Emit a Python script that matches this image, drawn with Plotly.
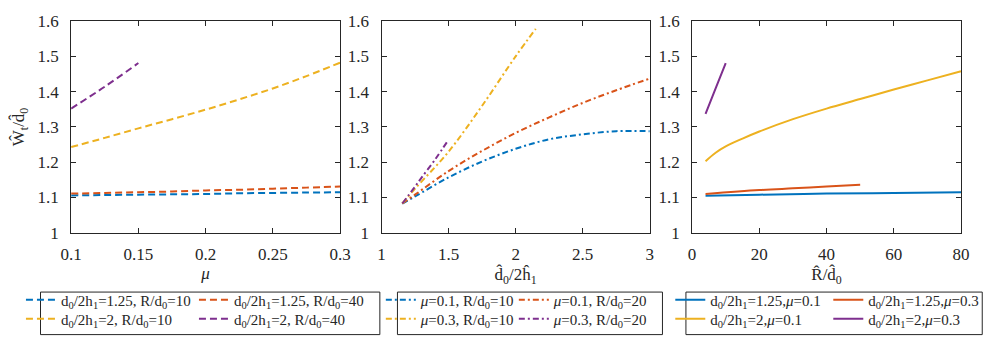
import plotly.graph_objects as go

# MATLAB 默认配色
BLUE, ORANGE, YELLOW, PURPLE = "#0072BD", "#D95319", "#EDB120", "#7E2F8E"
FONT = "Liberation Serif"
INK = "#262626"

# (a) Ŵt/d̂0 随 μ 变化
mu = [0.10, 0.125, 0.15, 0.175, 0.20, 0.225, 0.25, 0.275, 0.30]
mu_short = [0.10, 0.125, 0.15]
w_a_125_10 = [1.106, 1.107, 1.108, 1.109, 1.110, 1.112, 1.113, 1.114, 1.115]
w_a_125_40 = [1.111, 1.113, 1.115, 1.117, 1.120, 1.122, 1.125, 1.128, 1.131]
w_a_2_10 = [1.243, 1.269, 1.296, 1.322, 1.349, 1.378, 1.409, 1.444, 1.482]
w_a_2_40 = [1.352, 1.414, 1.481]

# (b) Ŵt/d̂0 随 d̂0/2ĥ1 变化
ratio = [1.155, 1.25, 1.5, 1.75, 2.0, 2.25, 2.5, 2.75, 3.0]
ratio_y = [1.155, 1.25, 1.5, 1.75, 2.0, 2.15]
ratio_p = [1.155, 1.25, 1.3, 1.4, 1.5]
w_b_01_10 = [1.083, 1.103, 1.157, 1.202, 1.238, 1.265, 1.279, 1.288, 1.288]
w_b_01_20 = [1.083, 1.108, 1.175, 1.232, 1.283, 1.327, 1.368, 1.404, 1.437]
w_b_03_10 = [1.083, 1.125, 1.230, 1.360, 1.500, 1.578]
w_b_03_20 = [1.083, 1.131, 1.157, 1.208, 1.264]

# (c) Ŵt/d̂0 随 R̂/d̂0 变化
r_blue = [4, 20, 40, 60, 80]
r_orange = [4, 20, 30, 40, 50]
r_yellow = [4, 7, 10, 15, 20, 30, 40, 50, 60, 70, 80]
r_purple = [4, 7, 10]
w_c_125_01 = [1.105, 1.108, 1.111, 1.113, 1.115]
w_c_125_03 = [1.110, 1.121, 1.126, 1.131, 1.136]
w_c_2_01 = [1.203, 1.227, 1.245, 1.267, 1.287, 1.322, 1.352, 1.379, 1.406, 1.432, 1.458]
w_c_2_03 = [1.337, 1.409, 1.481]

y_ticks = [1, 1.1, 1.2, 1.3, 1.4, 1.5, 1.6]
y_ticktext = ["1", "1.1", "1.2", "1.3", "1.4", "1.5", "1.6"]

D = "d<sub>0</sub>/2h<sub>1</sub>"
RD = "R/d<sub>0</sub>"
MU = "<i>μ</i>"

DASH = "7px,4px"
DASHDOT = "6px,3px,2px,3px"

# 每个子图两行图例：上行 / 下行
panels = [
    (1, ("legend", "legend2"), DASH, [
        (mu, w_a_125_10, BLUE, f"{D}=1.25, {RD}=10", 0),
        (mu, w_a_125_40, ORANGE, f"{D}=1.25, {RD}=40", 0),
        (mu, w_a_2_10, YELLOW, f"{D}=2, {RD}=10", 1),
        (mu_short, w_a_2_40, PURPLE, f"{D}=2, {RD}=40", 1),
    ]),
    (2, ("legend3", "legend4"), DASHDOT, [
        (ratio, w_b_01_10, BLUE, f"{MU}=0.1, {RD}=10", 0),
        (ratio, w_b_01_20, ORANGE, f"{MU}=0.1, {RD}=20", 0),
        (ratio_y, w_b_03_10, YELLOW, f"{MU}=0.3, {RD}=10", 1),
        (ratio_p, w_b_03_20, PURPLE, f"{MU}=0.3, {RD}=20", 1),
    ]),
    (3, ("legend5", "legend6"), "solid", [
        (r_blue, w_c_125_01, BLUE, f"{D}=1.25,{MU}=0.1", 0),
        (r_orange, w_c_125_03, ORANGE, f"{D}=1.25,{MU}=0.3", 0),
        (r_yellow, w_c_2_01, YELLOW, f"{D}=2,{MU}=0.1", 1),
        (r_purple, w_c_2_03, PURPLE, f"{D}=2,{MU}=0.3", 1),
    ]),
]

fig = go.Figure()
for idx, legs, dash, series in panels:
    sfx = "" if idx == 1 else str(idx)
    for xs, ys, col, name, r in series:
        fig.add_trace(go.Scatter(
            x=xs, y=ys, mode="lines", name=name, legend=legs[r],
            line={"color": col, "width": 2, "dash": dash, "shape": "spline"},
            xaxis="x" + sfx, yaxis="y" + sfx))

W, H = 996, 347
ydom = [1 - 228.3 / H, 1 - 4.3 / H]
xdoms = [(53.3, 328.3), (370.7, 645.0), (688.3, 963.3)]
xranges = [(0.1, 0.3), (1, 3), (0, 80)]
xticks = [[0.1, 0.15, 0.2, 0.25, 0.3], [1, 1.5, 2, 2.5, 3], [0, 20, 40, 60, 80]]
xtitles = [MU, "d̂<sub>0</sub>/2ĥ<sub>1</sub>", "R̂/d̂<sub>0</sub>"]

TXT = {"family": FONT, "size": 17, "color": INK}
axis_style = dict(showline=True, linecolor=INK, linewidth=1, mirror="ticks",
                  ticks="inside", ticklen=5, tickcolor=INK, showgrid=False,
                  zeroline=False, tickfont=TXT, ticklabeloverflow="allow")

layout = {}
for i, ((x0, x1), rng, tv, tt) in enumerate(zip(xdoms, xranges, xticks, xtitles)):
    sfx = "" if i == 0 else str(i + 1)
    layout["xaxis" + sfx] = dict(axis_style, domain=[x0 / W, x1 / W], range=list(rng),
                                 tickvals=tv, anchor="y" + sfx, ticklabelstandoff=6,
                                 title={"text": tt, "standoff": 0, "font": TXT})
    layout["yaxis" + sfx] = dict(axis_style, domain=ydom, range=[1, 1.6],
                                 tickvals=y_ticks, ticktext=y_ticktext,
                                 anchor="x" + sfx, ticklabelstandoff=8)
layout["yaxis"]["title"] = {"text": "Ŵ<sub>t</sub>/d̂<sub>0</sub>", "standoff": 16,
                            "font": TXT}

# 图例：每行一个横向图例，列间距用 entrywidth 控制（像素）
SAMPLE_PAD = 20
leg_rows = [(("legend", "legend2"), 22, 128),
            (("legend3", "legend4"), 390, 88),
            (("legend5", "legend6"), 686, 113)]
ROW_TOPS = (282, 302)
leg_boxes = [(22, 369), (387, 658), (682, 985)]
LEG_TOP, LEG_BOTTOM = 291, 336

for keys, sample_x, ew in leg_rows:
    for key, top in zip(keys, ROW_TOPS):
        layout[key] = dict(orientation="h", xanchor="left", yanchor="top",
                           x=(sample_x - SAMPLE_PAD) / W, y=1 - top / H,
                           borderwidth=0, bgcolor="rgba(0,0,0,0)",
                           entrywidth=ew, entrywidthmode="pixels",
                           font={"size": 15, "color": INK, "family": FONT})

fig.update_layout(**layout, width=W, height=H, showlegend=True,
                  margin={"l": 0, "r": 0, "t": 0, "b": 0},
                  paper_bgcolor="white", plot_bgcolor="white",
                  font={"family": FONT, "color": INK})
for x0, x1 in leg_boxes:
    fig.add_shape(type="rect", xref="paper", yref="paper",
                  x0=x0 / W, x1=x1 / W, y0=1 - LEG_BOTTOM / H, y1=1 - LEG_TOP / H,
                  line={"color": INK, "width": 1}, fillcolor="rgba(0,0,0,0)")
fig.write_html("out.html")
